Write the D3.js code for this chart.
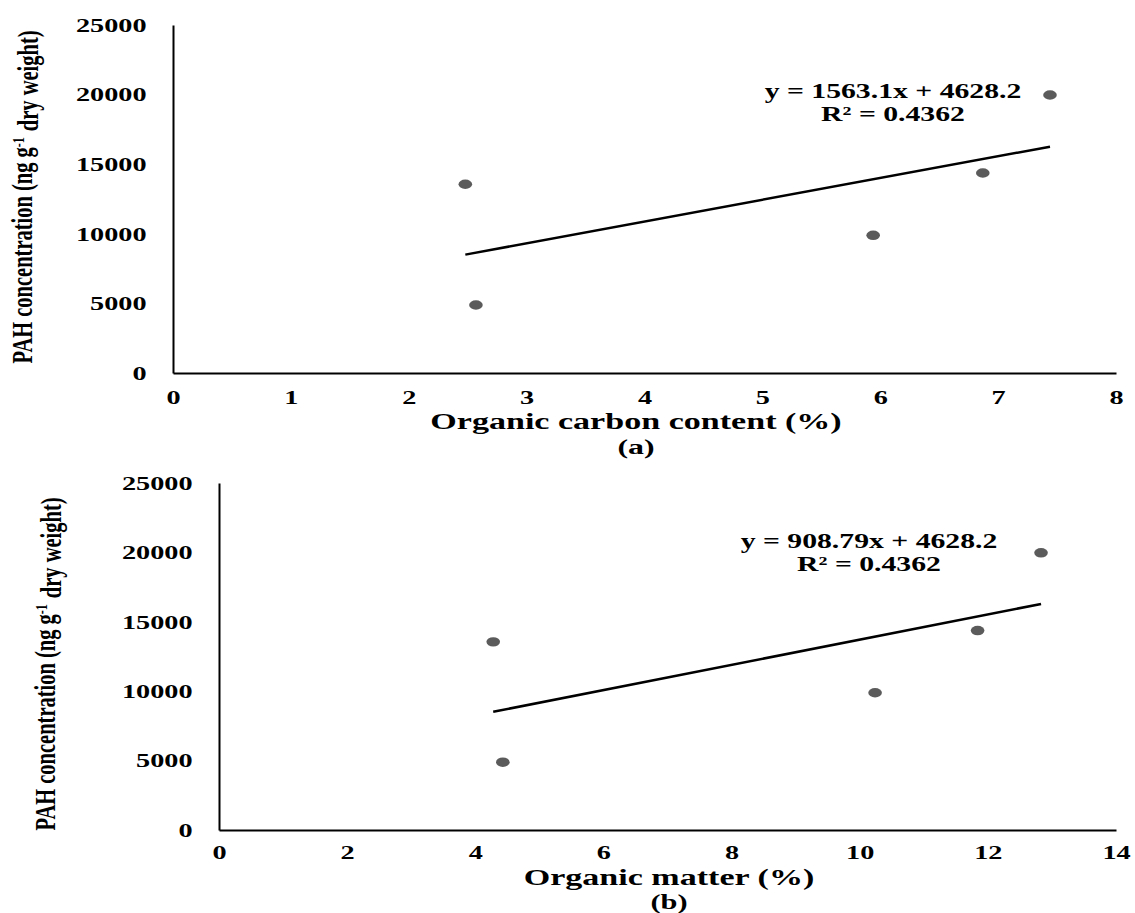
<!DOCTYPE html>
<svg width="1135" height="913"></svg>
<script src="https://d3js.org/d3.v7.min.js"></script>
<style>
  body {
    margin: 0;
    background: #fff;
  }
  svg {
    display: block;
    font-family: "Liberation Serif", "Times New Roman", serif;
    font-weight: bold;
  }
  .domain {
    stroke: #000;
    stroke-width: 2px;
  }
  .trend {
    fill: none;
    stroke: #000;
    stroke-width: 2.5px;
  }
  .dot {
    fill: #5b5b5b;
  }
</style>
<script>
// PAH vs organic carbon (a) and organic matter (b), same five samples
var pahConc = [13556, 4885, 9892, 14368, 19971];
var carbonPct = [2.48, 2.57, 5.94, 6.87, 7.44];
var matterPct = [4.28, 4.43, 10.24, 11.84, 12.83];

var pahTicks = [0, 5000, 10000, 15000, 20000, 25000];
var carbonTicks = [0, 1, 2, 3, 4, 5, 6, 7, 8];
var matterTicks = [0, 2, 4, 6, 8, 10, 12, 14];

// slope, intercept of the linear trendlines
var carbonFit = [1563.1, 4628.2];
var matterFit = [908.79, 4628.2];
var carbonFitText = ["y = 1563.1x + 4628.2", "R\u00b2 = 0.4362"];
var matterFitText = ["y = 908.79x + 4628.2", "R\u00b2 = 0.4362"];

// the original figure is stretched sideways, so text and dots are too
var SX = 1.45;

var svg = d3.select("svg");
var line = d3.line();

function stretchedText(parent, x, y, str, size) {
  return parent.append("text")
      .attr("transform", "translate(" + x + "," + y + ") scale(" + SX + ",1)")
      .attr("text-anchor", "middle")
      .style("font-size", size + "px")
      .text(str);
}

function drawPanel(p) {
  var g = svg.append("g");

  var x = d3.scaleLinear().domain(p.xDomain).range(p.xRange);
  var y = d3.scaleLinear().domain([0, 25000]).range(p.yRange);

  var xAxis = g.append("g")
      .attr("transform", "translate(0," + p.yRange[0] + ")")
      .call(d3.axisBottom(x).tickValues(p.xTicks).tickSize(0).tickPadding(p.xPad));
  xAxis.selectAll(".tick text")
      .attr("dy", "0.34em")
      .attr("transform", "scale(" + SX + ",1)");

  var yAxis = g.append("g")
      .attr("transform", "translate(" + p.xRange[0] + ",0)")
      .call(d3.axisLeft(y).tickValues(pahTicks).tickFormat(d3.format("d"))
        .tickSize(0).tickPadding(26.5 / SX));
  yAxis.selectAll(".tick text")
      .attr("transform", "scale(" + SX + ",1)");

  g.selectAll(".tick text")
      .attr("font-family", "Liberation Serif, Times New Roman, serif")
      .attr("font-size", 19.5)
      .attr("font-weight", "bold")
      .attr("fill", "#000");

  // trendline over the range of the data
  var x0 = d3.min(p.xs), x1 = d3.max(p.xs);
  var fit = function(v) { return p.fit[0] * v + p.fit[1]; };
  g.append("path")
      .attr("class", "trend")
      .attr("d", line([[x(x0), y(fit(x0))], [x(x1), y(fit(x1))]]));

  g.selectAll(".dot")
    .data(p.xs)
    .enter().append("ellipse")
      .attr("class", "dot")
      .attr("cx", function(d) { return x(d); })
      .attr("cy", function(d, i) { return y(pahConc[i]); })
      .attr("rx", 4.7 * SX)
      .attr("ry", 4.7);

  stretchedText(g, p.eqPos[0], p.eqPos[1], p.fitText[0], 20.5);
  stretchedText(g, p.eqPos[0], p.eqPos[1] + 23, p.fitText[1], 20.5);

  stretchedText(g, p.titlePos[0], p.titlePos[1], p.xTitle, 23.5);
  stretchedText(g, p.titlePos[0], p.titlePos[1] + p.tagGap, p.tag, p.tagSize);

  // rotated y title, stretched across its height
  var yt = g.append("text")
      .attr("transform", "translate(" + p.yTitlePos[0] + "," + p.yTitlePos[1] + ") rotate(-90) scale(1," + SX + ")")
      .attr("text-anchor", "middle")
      .style("font-size", "20.5px");
  yt.append("tspan").text("PAH concentration (ng g");
  yt.append("tspan").attr("dy", "-0.45em").style("font-size", "12px").text("-1");
  yt.append("tspan").attr("dy", "0.45em").attr("dx", "6").text("dry weight)");
}

drawPanel({
  xs: carbonPct,
  xDomain: [0, 8],
  xTicks: carbonTicks,
  xRange: [173, 1116],
  yRange: [373, 25],
  xPad: 24,
  fit: carbonFit,
  fitText: carbonFitText,
  eqPos: [893, 98],
  xTitle: "Organic carbon content (%)",
  titlePos: [636, 429],
  tag: "(a)",
  tagGap: 25,
  tagSize: 22,
  yTitlePos: [32, 197]
});

drawPanel({
  xs: matterPct,
  xDomain: [0, 14],
  xTicks: matterTicks,
  xRange: [219, 1116],
  yRange: [830, 483],
  xPad: 22,
  fit: matterFit,
  fitText: matterFitText,
  eqPos: [869, 548],
  xTitle: "Organic matter (%)",
  titlePos: [669, 885],
  tag: "(b)",
  tagGap: 24,
  tagSize: 21,
  yTitlePos: [55, 664]
});
</script>
